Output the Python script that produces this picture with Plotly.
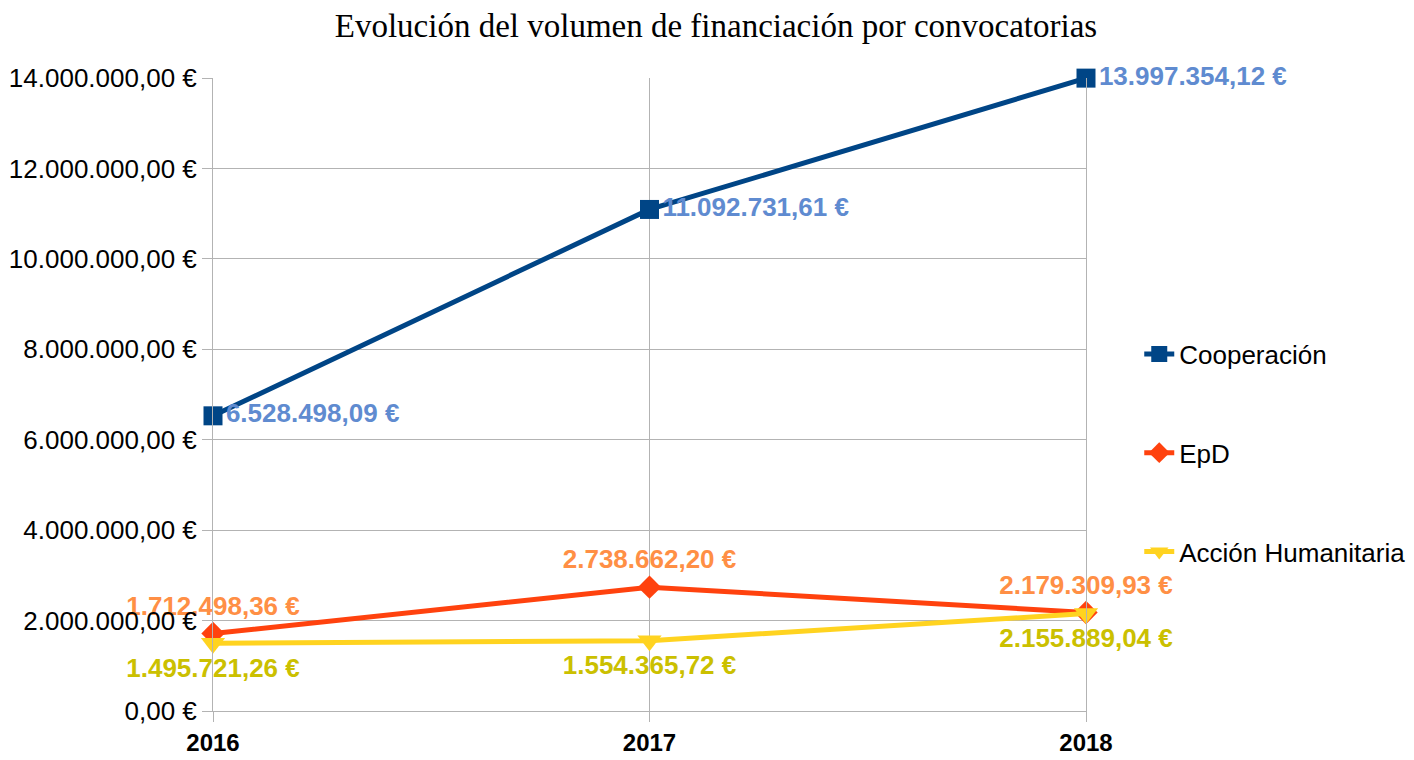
import plotly.graph_objects as go

years = [2016, 2017, 2018]
coop = [6528498.09, 11092731.61, 13997354.12]
epd = [1712498.36, 2738662.20, 2179309.93]
ah = [1495721.26, 1554365.72, 2155889.04]
y_ticks = [0, 2000000, 4000000, 6000000, 8000000, 10000000, 12000000, 14000000]


def eur(v):
    s = f"{v:,.2f}"
    s = s.replace(",", "X").replace(".", ",").replace("X", ".")
    return s + " €"


lbl_size = 26

fig = go.Figure()
fig.add_trace(go.Scatter(
    x=years, y=coop, name="Cooperación", mode="lines+markers+text",
    line=dict(color="#004586", width=5),
    marker=dict(symbol="square", size=19, color="#004586"),
    text=[eur(v) for v in coop], textposition="middle right",
    textfont=dict(family="Liberation Sans", size=lbl_size, color="#5f8bd0", weight="bold"),
    legendgroup="a", cliponaxis=False,
))
fig.add_trace(go.Scatter(
    x=years, y=epd, name="EpD", mode="lines+markers+text",
    line=dict(color="#ff420e", width=5),
    marker=dict(symbol="diamond", size=18, color="#ff420e"),
    text=[eur(v) for v in epd], textposition="top center",
    textfont=dict(family="Liberation Sans", size=lbl_size, color="#ff8f45", weight="bold"),
    legendgroup="b", cliponaxis=False,
))
fig.add_trace(go.Scatter(
    x=years, y=ah, name="Acción Humanitaria", mode="lines+markers+text",
    line=dict(color="#ffd320", width=5),
    marker=dict(symbol="triangle-down", size=21, color="#ffd320"),
    text=[eur(v) for v in ah], textposition="bottom center",
    textfont=dict(family="Liberation Sans", size=lbl_size, color="#cbc000", weight="bold"),
    legendgroup="c", cliponaxis=False,
))

fig.update_layout(
    width=1414, height=760,
    margin=dict(l=205, r=336, t=70, b=57, autoexpand=False),
    paper_bgcolor="white", plot_bgcolor="white",
    title=dict(text="Evolución del volumen de financiación por convocatorias",
               font=dict(family="Liberation Serif", size=33, color="black"),
               x=0.5007, xanchor="center", y=0.9776, yanchor="middle"),
    xaxis=dict(range=[2016, 2018], tickvals=years, ticktext=[str(y) for y in years],
               showgrid=True, gridcolor="#b3b3b3", gridwidth=1, zeroline=False,
               ticks="outside", ticklen=10, tickcolor="#b3b3b3",
               tickfont=dict(family="Liberation Sans", size=24, color="black", weight="bold"),
               showline=True, linecolor="#b3b3b3", linewidth=1, automargin=False),
    yaxis=dict(range=[0, 14000000], tickvals=y_ticks, ticktext=[eur(v) for v in y_ticks],
               showgrid=True, gridcolor="#b3b3b3", gridwidth=1, zeroline=False,
               ticks="outside", ticklen=10, tickcolor="#b3b3b3",
               tickfont=dict(family="Liberation Sans", size=26, color="black"),
               showline=True, mirror=True, linecolor="#b3b3b3", linewidth=1, automargin=False),
    legend=dict(x=1.061, xanchor="left", y=0.4076, yanchor="middle",
                font=dict(family="Liberation Sans", size=26, color="black"),
                tracegroupgap=62, bgcolor="rgba(0,0,0,0)"),
    showlegend=True,
)

fig.write_html("out.html")
